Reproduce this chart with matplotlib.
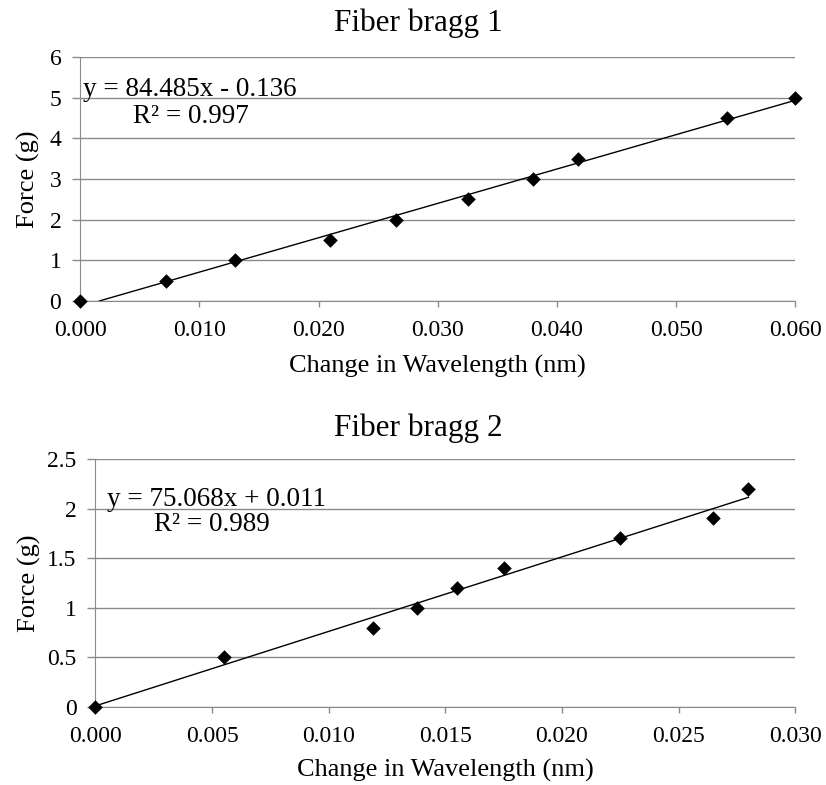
import numpy as np
import matplotlib.pyplot as plt

plt.rcParams['font.family'] = ['Liberation Serif', 'DejaVu Serif']

# Fiber bragg 1
fb1_x = [0.000, 0.0072, 0.0130, 0.0210, 0.0265, 0.0325, 0.0380, 0.0418, 0.0543, 0.0600]
fb1_y = [0, 0.5, 1.0, 1.5, 2.0, 2.5, 3.0, 3.5, 4.5, 5.0]
fb1_fit = (84.485, -0.136)
fb1_r2 = 0.997

# Fiber bragg 2
fb2_x = [0.000, 0.0055, 0.0119, 0.0138, 0.0155, 0.0175, 0.0225, 0.0265, 0.0280]
fb2_y = [0, 0.5, 0.8, 1.0, 1.2, 1.4, 1.7, 1.9, 2.2]
fb2_fit = (75.068, 0.011)
fb2_r2 = 0.989

GRAY = '#8a8a8a'


def panel(ax, x, y, fit, r2, xmax, xstep, ymax, ystep, yfmt, eq_pos, r2_pos, ylab_x, xlab_y):
    m, b = fit
    x0 = max(0.0, -b / m)
    xs = np.array([x0, max(x)])
    ax.plot(xs, m * xs + b, color='black', lw=1.0, zorder=2)
    ax.scatter(x, y, marker='D', s=55, color='black', zorder=3, clip_on=False, linewidths=0)
    ax.set_xlim(0, xmax)
    ax.set_ylim(0, ymax)
    xt = np.arange(0, xmax + xstep / 2, xstep)
    ax.set_xticks(xt)
    ax.set_xticklabels(['%.3f' % v for v in xt])
    yt = np.arange(0, ymax + ystep / 2, ystep)
    ax.set_yticks(yt)
    ax.set_yticklabels([yfmt(v) for v in yt])
    ax.grid(axis='y', color=GRAY, lw=1.0)
    ax.set_axisbelow(True)
    for s in ['top', 'right']:
        ax.spines[s].set_visible(False)
    for s in ['left', 'bottom']:
        ax.spines[s].set_color(GRAY)
    ax.tick_params(axis='x', direction='out', length=4.5, width=1, color=GRAY, labelsize=17, pad=9)
    ax.tick_params(axis='y', direction='out', length=5.5, width=1, color=GRAY, labelsize=17, pad=8)
    ax.set_xlabel('Change in Wavelength (nm)', fontsize=19, va='center')
    ax.xaxis.set_label_coords(0.5, xlab_y)
    ax.set_ylabel('Force (g)', fontsize=19, va='center')
    ax.yaxis.set_label_coords(ylab_x, 0.5)
    sign = '-' if b < 0 else '+'
    ax.text(*eq_pos, 'y = %.3fx %s %.3f' % (m, sign, abs(b)), transform=ax.transAxes,
            fontsize=19.5, va='center')
    ax.text(*r2_pos, 'R² = %.3f' % r2, transform=ax.transAxes, fontsize=19.5, va='center')


fig = plt.figure(figsize=(8.26, 7.85), dpi=100)
ax1 = fig.add_axes([0.097, 0.6166, 0.866, 0.311])
ax2 = fig.add_axes([0.1156, 0.0994, 0.847, 0.316])

panel(ax1, fb1_x, fb1_y, fb1_fit, fb1_r2, 0.060, 0.010, 6, 1,
      lambda v: '%d' % v, (0.004, 0.865), (0.074, 0.755), -0.072, -0.270)
panel(ax2, fb2_x, fb2_y, fb2_fit, fb2_r2, 0.030, 0.005, 2.5, 0.5,
      lambda v: '%g' % v, (0.016, 0.835), (0.083, 0.735), -0.095, -0.254)

fig.text(0.506, 0.9707, 'Fiber bragg 1', fontsize=22.5, ha='center', va='center')
fig.text(0.506, 0.4548, 'Fiber bragg 2', fontsize=22.5, ha='center', va='center')

fig.savefig('out.png', dpi=100)
